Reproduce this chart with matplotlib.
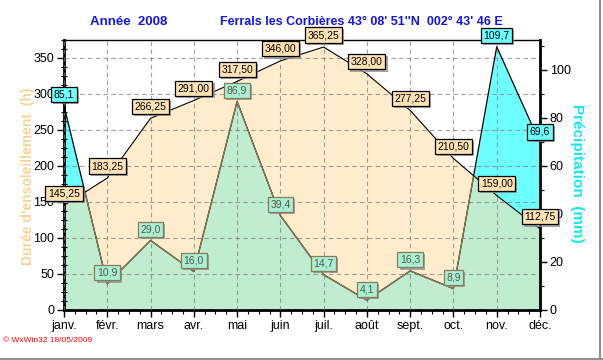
import matplotlib
matplotlib.use("Agg")
import matplotlib.pyplot as plt
import numpy as np
from matplotlib.patches import Polygon
from matplotlib.ticker import MultipleLocator
import matplotlib.patheffects as pe

plt.rcParams['font.family'] = ['Liberation Sans', 'DejaVu Sans']

months = ["janv.", "févr.", "mars", "avr.", "mai", "juin", "juil.", "août", "sept.", "oct.", "nov.", "déc."]
sunshine = [145.25, 183.25, 266.25, 291.00, 317.50, 346.00, 365.25, 328.00, 277.25, 210.50, 159.00, 112.75]
precip = [85.1, 10.9, 29.0, 16.0, 86.9, 39.4, 14.7, 4.1, 16.3, 8.9, 109.7, 69.6]

x = np.arange(len(months))
sun = np.array(sunshine)
pr = np.array(precip)

W, H = 603, 360
fig = plt.figure(figsize=(W/100, H/100), dpi=100)
ax = fig.add_axes([64/W, 1-310/H, (540-64)/W, (310-40)/H])
ax2 = ax.twinx()

ax.set_xlim(0, 11)
ax.set_ylim(0, 375)
ax2.set_ylim(0, 112.5)

BEIGE = '#FFECCC'
CYAN = '#6CFFFF'
GREEN = '#C0EDCF'
BROWN = '#8C7A56'

# sunshine fill
ax.fill_between(x, 0, sun, color=BEIGE, lw=0, zorder=1)
# precipitation fill (right scale)
ax.fill_between(x, 0, pr, color=CYAN, lw=0, zorder=1.5, transform=ax2.transData)
sun_poly = Polygon([(0, 0)] + list(zip(x, sun)) + [(11, 0)], closed=True, transform=ax.transData)
g = ax.fill_between(x, 0, pr, color=GREEN, lw=0, zorder=2, transform=ax2.transData)
g.set_clip_path(sun_poly)

# grid
ax.set_axisbelow(False)
ax.grid(True, which='major', ls=(0, (4, 3)), color='#808080', lw=0.8, alpha=0.75)

# lines
ax.plot(x, pr, color='black', lw=0.9, zorder=3, transform=ax2.transData)
l2, = ax.plot(x, pr, color=BROWN, lw=0.9, zorder=3.1, transform=ax2.transData)
l2.set_clip_path(sun_poly)
ax.plot(x, sun, color='black', lw=0.8, zorder=3.2)

shadow = [pe.SimplePatchShadow(offset=(1.5, -1.5), shadow_rgbFace='#909090', alpha=0.8), pe.Normal()]

def fmt(v, d):
    return f"{v:.{d}f}".replace('.', ',')

for xi, v in zip(x, sun):
    t = ax2.annotate(fmt(v, 2), (xi, v), xycoords=ax.transData, xytext=(0, 12), textcoords='offset pixels',
                     ha='center', va='center', fontsize=7.5, color='black', zorder=6,
                     bbox=dict(boxstyle='square,pad=0.25', fc='#FFE2B4', ec='black', lw=0.9),
                     annotation_clip=False)
    t.get_bbox_patch().set_path_effects(shadow)

for xi, v, s in zip(x, pr, sun):
    inside = v * 375 / 112.5 <= s
    if inside:
        fc, ec, tc = '#A6F0D6', BROWN, '#5E5440'
    else:
        fc, ec, tc = CYAN, 'black', 'black'
    t = ax2.annotate(fmt(v, 1), (xi, v), xytext=(0, 11), textcoords='offset pixels',
                     ha='center', va='center', fontsize=7.5, color=tc, zorder=6,
                     bbox=dict(boxstyle='square,pad=0.25', fc=fc, ec=ec, lw=0.9),
                     annotation_clip=False)
    t.get_bbox_patch().set_path_effects(shadow)

# axes styling
ax.set_xticks(x)
ax.set_xticklabels(months)
ax.xaxis.set_minor_locator(MultipleLocator(0.25))
ax.yaxis.set_major_locator(MultipleLocator(50))
ax.yaxis.set_minor_locator(MultipleLocator(12.5))
ax2.yaxis.set_major_locator(MultipleLocator(20))
ax2.yaxis.set_minor_locator(MultipleLocator(10))

ax.tick_params(axis='both', which='major', direction='out', length=5, width=1, labelsize=9, pad=2)
ax.tick_params(axis='x', which='minor', direction='out', length=3, width=0.8)
ax.tick_params(axis='y', which='minor', direction='inout', length=4, width=0.8)
ax2.tick_params(axis='y', which='major', direction='out', length=5, width=1, labelsize=9, pad=2)
ax2.tick_params(axis='y', which='minor', direction='out', length=3, width=0.8)

for s in ['left', 'bottom']:
    ax.spines[s].set_linewidth(2)
ax.spines['top'].set_linewidth(1)
ax.spines['right'].set_visible(False)
for s in ['left', 'bottom', 'top']:
    ax2.spines[s].set_visible(False)
ax2.spines['right'].set_linewidth(2)

# titles
fig.text(90/W, 1-22/H, "Année  2008", ha='left', va='center', fontsize=9.5,
         fontweight='bold', color='#1414E6')
fig.text(220/W, 1-22/H, "Ferrals les Corbières 43° 08' 51''N  002° 43' 46 E", ha='left', va='center',
         fontsize=9.0, fontweight='bold', color='#1414E6')

fig.text(28/W, 1-176/H, "Durée d'ensoleillement  (h)", rotation=90, ha='center', va='center',
         fontsize=10, fontweight='bold', color='#F8D396')
fig.text(577/W, 1-173/H, "Précipitation  (mm)", rotation=-90, ha='center', va='center',
         fontsize=11, fontweight='bold', color='#10E8F0')

fig.text(3/W, 1-341/H, "© WxWin32 18/05/2009", ha='left', va='center', fontsize=6, color='red')

# figure frame lines
fig.add_artist(plt.Line2D([0, 1], [1.5/H, 1.5/H], color='#909090', lw=1.5, transform=fig.transFigure))
fig.add_artist(plt.Line2D([1-3/W, 1-3/W], [0, 1], color='#909090', lw=1.5, transform=fig.transFigure))

fig.savefig("out.png", dpi=100)
